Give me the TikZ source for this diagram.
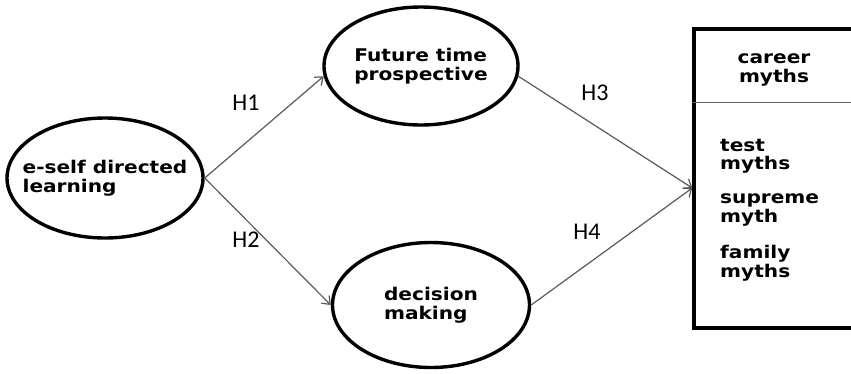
\documentclass[tikz,border=0pt]{standalone}
\usepackage{fontspec}
\newfontfamily\lblfont[FakeStretch=1.15]{DejaVu Sans}
\newfontfamily\hypfont{Carlito}
\usetikzlibrary{arrows.meta,shapes.geometric}

\begin{document}
\begin{tikzpicture}[x=1pt, y=-1pt,
      every node/.style={inner sep=0pt},
      lbl/.style={font=\lblfont\bfseries\fontsize{17.5}{18.5}\selectfont, align=left},
      construct/.style={lbl, ellipse, draw, line width=3.4pt, inner xsep=-30pt, inner ysep=-10pt},
      hyparrow/.style={draw=black!65, line width=1.2pt, -{Straight Barb[length=7pt,width=11pt]}},
      hyp/.style={font=\hypfont\fontsize{24}{26}\selectfont}]
    \useasboundingbox (0,0) rectangle (851,373);
    \clip (0,0) rectangle (851,373);
    % Constructs
    \node[construct, minimum width=196pt, minimum height=120pt] (ESDL) at (105,178) {e-self directed\\learning};
    \node[construct, minimum width=194pt, minimum height=118pt] (FTP) at (421,66) {Future time\\prospective};
    \node[construct, minimum width=197pt, minimum height=125pt] (DM) at (431,305) {decision\\making};
    % Career myths box (cut off on the right)
    \node[draw, line width=3.4pt, minimum width=176pt, minimum height=299pt] (CM) at (782,178.5) {};
    \draw[black!60, line width=1pt] ([yshift=-75pt]CM.north west) -- ([yshift=-75pt]CM.north east);
    \node[lbl, align=center] (CMT) at (774,70) {career\\myths};
    \node[lbl, anchor=west] (TM) at (720,156) {test\\myths};
    \node[lbl, anchor=west] (SM) at (720,210) {supreme\\myth};
    \node[lbl, anchor=west] (FM) at (720,263) {family\\myths};
    \coordinate (tip) at ([yshift=-9.5pt]CM.west);
    % Hypotheses
    \draw[hyparrow] (ESDL.east) -- (FTP.186);
    \draw[hyparrow] (ESDL.east) -- (DM.west);
    \draw[hyparrow] (FTP.-6) -- (tip);
    \draw[hyparrow] (DM.east) -- (tip);
    \node[hyp] (H1) at (246,103) {H1};
    \node[hyp] (H2) at (246,240) {H2};
    \node[hyp] (H3) at (595,93) {H3};
    \node[hyp] (H4) at (587,232) {H4};
  \end{tikzpicture}
\end{document}
